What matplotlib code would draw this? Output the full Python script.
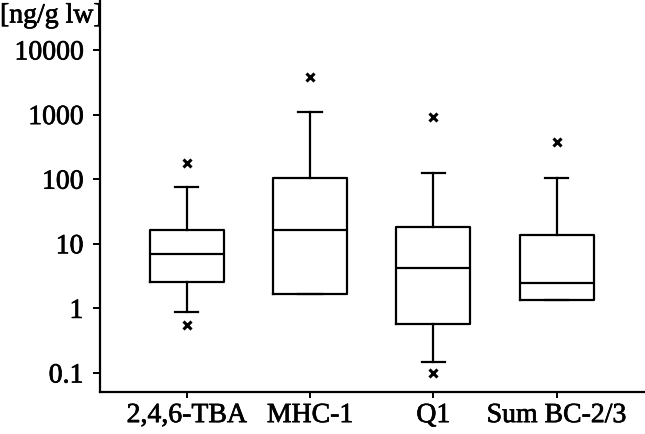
import matplotlib
matplotlib.use("Agg")
import matplotlib.pyplot as plt
import matplotlib.patheffects as pe
from matplotlib.ticker import FixedLocator, NullLocator

categories = ["2,4,6-TBA", "MHC-1", "Q1", "Sum BC-2/3"]
whisker_low = [0.87, 1.65, 0.147, 1.35]
q1 = [2.54, 1.65, 0.567, 1.35]
median = [6.95, 16.3, 4.22, 2.45]
q3 = [16.2, 105, 18.0, 13.5]
whisker_high = [76, 1086, 125, 104]
outliers = [[176, 0.55], [3860], [928, 0.101], [381]]
ytick_values = [0.1, 1, 10, 100, 1000, 10000]
ytick_labels = ["0.1", "1", "10", "100", "1000", "10000"]
unit_label = "[ng/g lw]"

plt.rcParams['font.family'] = ['Liberation Serif', 'DejaVu Serif']

fig = plt.figure(figsize=(6.45, 4.34), dpi=100)
ax = fig.add_axes([100/645, 42/434, 545/645, 392/434])

stats = []
for i, name in enumerate(categories):
    stats.append(dict(label=name, whislo=whisker_low[i], q1=q1[i], med=median[i],
                      q3=q3[i], whishi=whisker_high[i], fliers=outliers[i]))

lw = 1.6
ax.bxp(stats, positions=range(1, len(categories) + 1), widths=0.6, capwidths=0.19,
       showfliers=True,
       boxprops=dict(color='black', linewidth=lw),
       medianprops=dict(color='black', linewidth=lw),
       whiskerprops=dict(color='black', linewidth=lw),
       capprops=dict(color='black', linewidth=lw),
       flierprops=dict(marker='x', markersize=6, markeredgewidth=2.2,
                       markeredgecolor='black', linestyle='none'))

ax.set_yscale('log')
ax.set_ylim(0.0508, 59400)
ax.set_xlim(0.297, 4.717)
ax.yaxis.set_major_locator(FixedLocator(ytick_values))
ax.yaxis.set_minor_locator(NullLocator())
ax.set_yticks(ytick_values)
ax.set_yticklabels(ytick_labels)
ax.set_xticks(range(1, len(categories) + 1))
ax.set_xticklabels(categories)

for s in ['top', 'right']:
    ax.spines[s].set_visible(False)
for s in ['left', 'bottom']:
    ax.spines[s].set_linewidth(1.6)

ax.tick_params(axis='both', labelsize=20, width=1.4, length=5, colors='black')
ax.tick_params(axis='y', pad=7)
ax.tick_params(axis='x', length=4, pad=4)

thick = [pe.withStroke(linewidth=0.5, foreground='black')]
for t in ax.get_xticklabels() + ax.get_yticklabels():
    t.set_path_effects(thick)

fig.text(0.0, 1 - 16/434, unit_label, fontsize=20, ha='left', va='center',
         path_effects=thick)

fig.savefig("out.png", dpi=100)
